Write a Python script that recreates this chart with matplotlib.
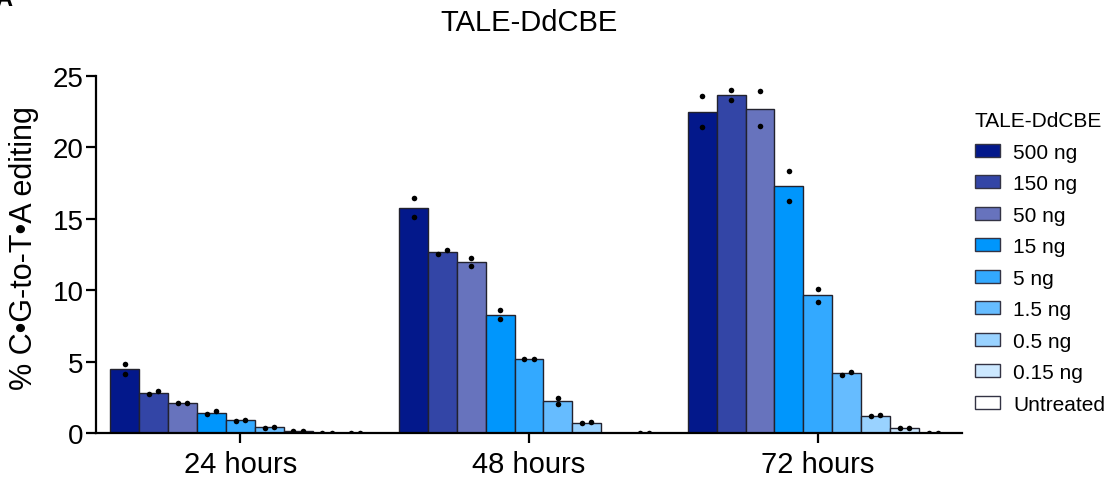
import numpy as np
import matplotlib
matplotlib.use("Agg")
import matplotlib.pyplot as plt
from matplotlib.patches import Patch

plt.rcParams["font.family"] = ["Liberation Sans", "DejaVu Sans"]

# Timepoints, doses and the two replicate measurements (% C•G-to-T•A)
timepoints = ["24 hours", "48 hours", "72 hours"]
doses = ["500 ng", "150 ng", "50 ng", "15 ng", "5 ng", "1.5 ng", "0.5 ng", "0.15 ng", "Untreated"]
dose_colors = ["#03188b", "#3345a6", "#6773bd", "#0096fc", "#33a9ff", "#66bcff",
               "#99d2ff", "#cce8ff", "#ffffff"]

rep1 = {
    "24 hours": [4.80, 2.71, 2.10, 1.31, 0.87, 0.37, 0.12, 0.02, 0.02],
    "48 hours": [16.46, 12.56, 12.25, 8.59, 5.16, 2.43, 0.72, np.nan, 0.02],
    "72 hours": [23.60, 24.02, 23.93, 18.32, 10.06, 4.06, 1.17, 0.33, 0.01],
}
rep2 = {
    "24 hours": [4.10, 2.94, 2.10, 1.54, 0.91, 0.44, 0.16, 0.02, 0.01],
    "48 hours": [15.10, 12.79, 11.67, 7.96, 5.20, 2.05, 0.75, np.nan, 0.01],
    "72 hours": [21.40, 23.30, 21.48, 16.22, 9.20, 4.29, 1.24, 0.35, 0.01],
}

bar_w = 0.1
fig = plt.figure(figsize=(11.10, 4.81), dpi=100)
ax = fig.add_axes([0.0865, 0.0977, 0.7802, 0.7423])

for g, tp in enumerate(timepoints):
    for i, dose in enumerate(doses):
        a, b = rep1[tp][i], rep2[tp][i]
        if np.isnan(a):
            continue
        x = g + (i - 4) * bar_w
        mean = (a + b) / 2
        ax.bar(x, mean, width=bar_w, color=dose_colors[i], edgecolor="#22222e",
               linewidth=1.0, zorder=2)
        # close replicates are spread sideways, distant ones stacked
        if abs(a - b) < 0.3:
            xs = [x - 0.016, x + 0.016]
            ys = [min(a, b), max(a, b)]
        else:
            xs = [x, x]
            ys = [a, b]
        ax.scatter(xs, ys, s=16, color="black", zorder=3, linewidths=0)

ax.set_xlim(-0.50, 2.50)
ax.set_ylim(0, 25)
ax.set_yticks([0, 5, 10, 15, 20, 25])
ax.set_xticks(range(len(timepoints)))
ax.set_xticklabels(timepoints)
ax.tick_params(axis="both", width=1.6, length=7, direction="out")
ax.tick_params(axis="y", labelsize=20, pad=2)
ax.tick_params(axis="x", labelsize=21, pad=5)
for side in ["top", "right"]:
    ax.spines[side].set_visible(False)
for side in ["left", "bottom"]:
    ax.spines[side].set_linewidth(1.6)
ax.set_ylabel("% C•G-to-T•A editing", fontsize=22)
ax.yaxis.set_label_coords(-0.066, 0.52)
ax.set_title("TALE-DdCBE", fontsize=21, pad=33)

handles = [Patch(facecolor=c, edgecolor="#333344", linewidth=1.0) for c in dose_colors]
leg = fig.legend(handles, doses, title="TALE-DdCBE", loc="upper left",
                 bbox_to_anchor=(0.878, 0.767), frameon=False, fontsize=15,
                 title_fontsize=15, handlelength=1.2, handleheight=0.6,
                 labelspacing=0.6, handletextpad=0.65, borderaxespad=0, borderpad=0)
leg._legend_box.align = "left"

fig.text(-0.004, 1.0, "A", fontsize=17, fontweight="bold", va="center", ha="left")

fig.savefig("out.png", dpi=100)
